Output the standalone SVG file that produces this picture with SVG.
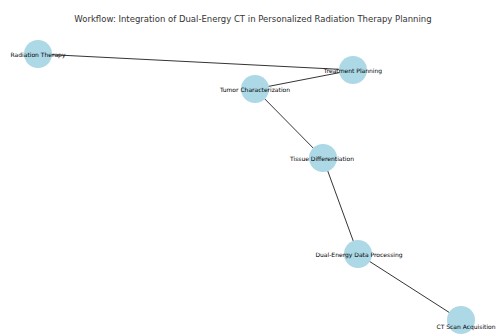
<svg xmlns="http://www.w3.org/2000/svg" width="496" height="334" viewBox="0 0 496 334">
<style>
.title{font-family:"DejaVu Sans",sans-serif;font-size:8.5px;fill:#333}
.lbl{font-family:"DejaVu Sans",sans-serif;font-size:6px;fill:#000;text-anchor:middle;dominant-baseline:central}
.node circle{fill:#ADD8E6}
.edge{stroke:#000;stroke-width:0.8;fill:none}
</style>
<rect width="496" height="334" fill="#fff"/>
<text class="title" x="253" y="22" text-anchor="middle">Workflow: Integration of Dual-Energy CT in Personalized Radiation Therapy Planning</text>
<g id="edges">
<line class="edge" x1="38" y1="54" x2="353" y2="70"/>
<line class="edge" x1="353" y1="70" x2="255" y2="89"/>
<line class="edge" x1="255" y1="89" x2="323" y2="158"/>
<line class="edge" x1="323" y1="158" x2="358" y2="254"/>
<line class="edge" x1="358" y1="254" x2="461" y2="320"/>
</g>
<g id="radiation-therapy" class="node"><circle cx="38" cy="54" r="14"/><text class="lbl" x="38" y="54">Radiation Therapy</text></g>
<g id="treatment-planning" class="node"><circle cx="353" cy="70" r="14"/><text class="lbl" x="353" y="70">Treatment Planning</text></g>
<g id="tumor-characterization" class="node"><circle cx="255" cy="89" r="14"/><text class="lbl" x="255" y="89">Tumor Characterization</text></g>
<g id="tissue-differentiation" class="node"><circle cx="323" cy="158" r="14"/><text class="lbl" x="322" y="158">Tissue Differentiation</text></g>
<g id="dual-energy" class="node"><circle cx="358" cy="254" r="14"/><text class="lbl" x="359" y="254">Dual-Energy Data Processing</text></g>
<g id="ct-scan" class="node"><circle cx="461" cy="320" r="14"/><text class="lbl" x="466" y="326">CT Scan Acquisition</text></g>
</svg>
